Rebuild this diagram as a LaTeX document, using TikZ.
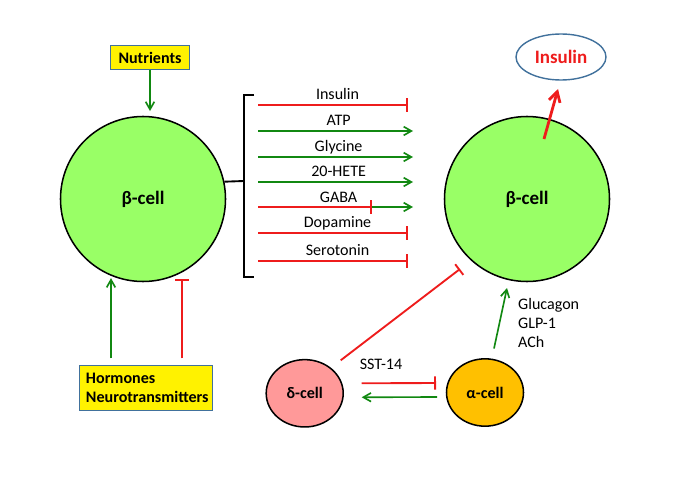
\documentclass[tikz,border=0pt]{standalone}
\usepackage{fontspec}
\setmainfont{Carlito}
\usepackage{xcolor}
\usepackage{tikz}
\usetikzlibrary{shapes,arrows.meta,positioning}
\definecolor{cellgreen}{HTML}{99FF66}
\definecolor{boxedge}{HTML}{41719C}
\definecolor{actgreen}{HTML}{118811}
\definecolor{inhred}{HTML}{EE1C1C}
\definecolor{deltapink}{HTML}{FF9999}
\definecolor{alphaorange}{HTML}{FFC000}
\tikzset{cell/.style={circle,draw,line width=1.3pt,fill=cellgreen,minimum size=4.95cm,inner sep=0pt,font=\fontsize{16.2}{19}\selectfont\bfseries},
  small/.style={ellipse,draw,line width=1.3pt,minimum width=2.31cm,minimum height=2.02cm,inner sep=0pt,font=\fontsize{13.7}{16}\selectfont\bfseries},
  ybox/.style={rectangle,draw=boxedge,line width=1.2pt,fill=yellow,font=\fontsize{13.7}{16}\selectfont\bfseries},
  act/.style={actgreen,line width=1.4pt,-{Straight Barb[length=2.3mm,width=2.6mm]}},
  inh/.style={inhred,line width=1.6pt,-{Bar[width=4mm,line width=1.6pt]}},
  lab/.style={font=\fontsize{13.7}{16}\selectfont,text=black,inner sep=0pt,text depth=0pt}}

\begin{document}
\begin{tikzpicture}[x=0.03cm,y=-0.03cm]
    \useasboundingbox (0,0) rectangle (680,481);

    \node[cell] (lbeta) at (143,199) {β-cell};
    \node[cell] (rbeta) at (527,199) {β-cell};
    \node[ybox,minimum width=2.37cm,minimum height=0.71cm,inner xsep=0.2cm] (nutr) at (150,57.5) {Nutrients};
    \node[ybox,align=left,text width=3.6cm,inner xsep=0.2cm,minimum height=1.35cm] (horm) at (146,388) {Hormones\\Neurotransmitters};
    \node[ellipse,draw=boxedge,line width=1.2pt,minimum width=2.7cm,minimum height=1.38cm,text=inhred,font=\fontsize{16.2}{19}\selectfont\bfseries] (ins) at (561,57) {Insulin};
    \node[small,fill=deltapink] (delta) at (304.7,393.3) {δ-cell};
    \node[small,fill=alphaorange] (alpha) at (485,392.5) {α-cell};
    \node[anchor=west,align=left,inner sep=0pt,font=\fontsize{13.7}{16.2}\selectfont] (glab) at (518,323) {Glucagon\\GLP-1\\ACh};

    % bracket
    \coordinate (brk) at (244,181);
    \draw [line width=1.6pt] (254,95) -- (244,95) -- (244,277) -- (254,277);
    \draw [line width=1.6pt] (lbeta.12.5) to [] (brk);

    \coordinate (sins) at (258,105);  \coordinate (eins) at (408,105);
    \coordinate (satp) at (258,131);  \coordinate (eatp) at (413,131);
    \coordinate (sgly) at (258,157);  \coordinate (egly) at (413,157);
    \coordinate (shete) at (258,182); \coordinate (ehete) at (413,182);
    \coordinate (sgaba) at (258,207); \coordinate (mgaba) at (372,207); \coordinate (egaba) at (413,207);
    \coordinate (sdop) at (258,233);  \coordinate (edop) at (408,233);
    \coordinate (sser) at (258,261);  \coordinate (eser) at (408,261);

    \draw [inh] (sins) to []node[lab,above=3.6pt,pos=0.53]{Insulin} (eins);
    \draw [act] (satp) to []node[lab,above=3.6pt,pos=0.52]{ATP} (eatp);
    \draw [act] (sgly) to []node[lab,above=3.6pt,pos=0.52]{Glycine} (egly);
    \draw [act] (shete) to []node[lab,above=3.6pt,pos=0.52]{20-HETE} (ehete);
    \draw [inh] (sgaba) to [] (mgaba);
    \draw [act] (mgaba) to [] (egaba);
    \path (sgaba) to []node[lab,above=3.6pt,pos=0.52]{GABA} (egaba);
    \draw [inh] (sdop) to []node[lab,above=3.6pt,pos=0.53]{Dopamine} (edop);
    \draw [inh] (sser) to []node[lab,above=3.6pt,pos=0.53]{Serotonin} (eser);

    \draw [act,shorten >=0.14cm] (nutr.south) to [] (lbeta.north -| nutr.south);
    \draw [act,shorten >=0.07cm] ([shift={(-35,-6.5)}]horm.north) to [] ([shift={(-35,-6.5)}]horm.north |- lbeta.south);
    \draw [inh,shorten >=0.09cm] ([shift={(36,-6.5)}]horm.north) to [] ([shift={(36,-6.5)}]horm.north |- lbeta.south);

    \draw [inhred,line width=2.4pt,-{Straight Barb[length=3mm,width=3.4mm]}] ([shift={(17,-60)}]rbeta.center) to [] ([shift={(-3,32)}]ins.center);
    \draw [inh] ([shift={(36,-33)}]delta.center) to [] ([shift={(-67,70)}]rbeta.center);
    \draw [act] ([shift={(9,-44)}]alpha.center) to [] ([shift={(-20,89)}]rbeta.center);
    \draw [inh] ([shift={(57,-10)}]delta.center) to []node[lab,above=0.39cm,pos=0.26]{SST-14} ([shift={(-49,-9.5)}]alpha.center);
    \draw [act] ([shift={(-48,4.5)}]alpha.center) to [] ([shift={(57,4)}]delta.center);
\end{tikzpicture}
\end{document}
